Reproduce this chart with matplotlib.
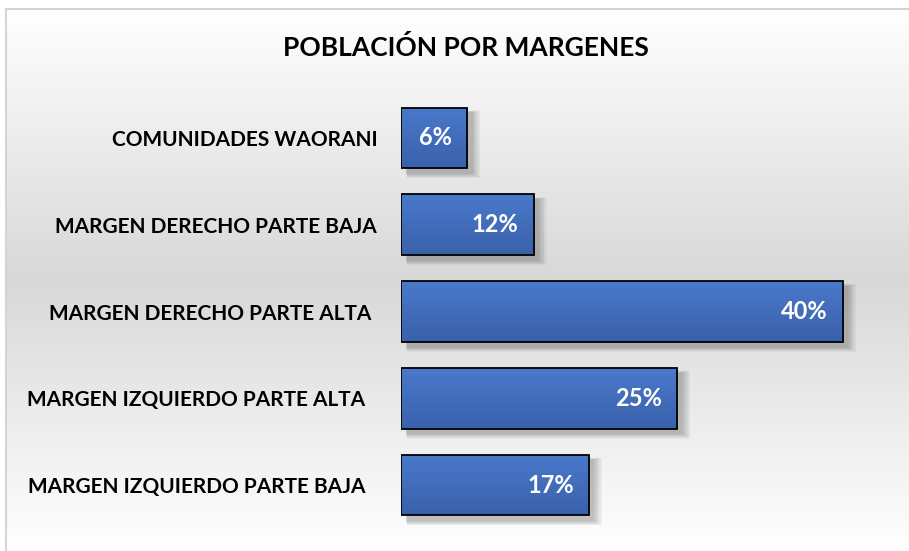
import numpy as np
import matplotlib
matplotlib.use("Agg")
import matplotlib.pyplot as plt
import matplotlib.transforms as mtransforms
from matplotlib.colors import LinearSegmentedColormap
from matplotlib.patches import Rectangle
from matplotlib.lines import Line2D

plt.rcParams['font.family'] = ['Lato', 'DejaVu Sans']

categorias = [
    'COMUNIDADES WAORANI',
    'MARGEN DERECHO PARTE BAJA',
    'MARGEN DERECHO PARTE ALTA',
    'MARGEN IZQUIERDO PARTE ALTA',
    'MARGEN IZQUIERDO PARTE BAJA',
]
porcentajes = [6, 12, 40, 25, 17]
titulo = 'POBLACIÓN POR MARGENES'

W, H = 909, 551
fig = plt.figure(figsize=(W / 100, H / 100), dpi=100)

# fondo del área del gráfico: degradado blanco -> gris -> blanco
bg = fig.add_axes([6 / W, 0, 1 - 6 / W, 1 - 9 / H], zorder=0)
fondo = LinearSegmentedColormap.from_list('fondo', ['#ffffff', '#d8d8d8', '#ffffff'])
bg.imshow(np.linspace(0, 1, 256).reshape(-1, 1), aspect='auto', cmap=fondo,
          extent=[0, 1, 0, 1], interpolation='bicubic')
bg.set_axis_off()
fig.add_artist(Line2D([6 / W, 1], [1 - 9 / H, 1 - 9 / H], color='#d4d4d4', lw=1.5))
fig.add_artist(Line2D([6 / W, 6 / W], [0, 1 - 9 / H], color='#d4d4d4', lw=1.5))

ax = fig.add_axes([401 / W, 22.5 / H, 464 / W, 434 / H], zorder=1)
ax.patch.set_alpha(0)
y = np.arange(len(categorias))
alto = 0.70
ax.set_xlim(0, 42)
ax.set_ylim(len(categorias) - 0.5, -0.5)

# relleno degradado de las barras
azul = LinearSegmentedColormap.from_list('azul', ['#4a79cb', '#3a61ab'])
grad = np.linspace(0, 1, 64).reshape(-1, 1)

px_x = 464 / 42      # píxeles por unidad en x
px_y = 434 / 5       # píxeles por unidad en y
for yi, v in zip(y, porcentajes):
    # sombra difusa hacia abajo a la derecha
    sombra_tr = mtransforms.offset_copy(ax.transData, fig=fig, x=4, y=-5, units='dots')
    for k in range(7, 0, -1):
        ex, ey = k / px_x, k / px_y
        ax.add_patch(Rectangle((0 + ex * 0.3, yi - alto / 2 - ey * 0.3), v + ex, alto + ey,
                               transform=sombra_tr, facecolor='black', edgecolor='none',
                               alpha=0.035, zorder=1))
    barra = Rectangle((0, yi - alto / 2), v, alto, facecolor='none',
                      edgecolor='black', linewidth=1.3, zorder=3)
    ax.add_patch(barra)
    img = ax.imshow(grad, aspect='auto', cmap=azul, zorder=2,
                    extent=(0, v, yi + alto / 2, yi - alto / 2))
    img.set_clip_path(barra)
    ax.annotate(f'{v}%', xy=(v, yi), xytext=(-15, 0), textcoords='offset pixels',
                ha='right', va='center', color='white', fontsize=17,
                fontweight='bold', zorder=4)

ax.set_xlim(0, 42)
ax.set_ylim(len(categorias) - 0.5, -0.5)
ax.set_yticks(y)
ax.set_yticklabels(categorias, fontsize=15, fontweight='bold')
ax.tick_params(axis='y', length=0, pad=17)
ax.set_xticks([])
for s in ax.spines.values():
    s.set_visible(False)

# los rótulos largos quedan algo más a la izquierda
desplaz = [0, 1, 6, 12, 12]
for lab, d in zip(ax.get_yticklabels(), desplaz):
    lab.set_transform(lab.get_transform() +
                      mtransforms.ScaledTranslation(-d / 100, 0, fig.dpi_scale_trans))

fig.text(466 / W, 1 - 47 / H, titulo, ha='center', va='center',
         fontsize=19, fontweight='bold', color='black')

fig.savefig('out.png', dpi=100)
